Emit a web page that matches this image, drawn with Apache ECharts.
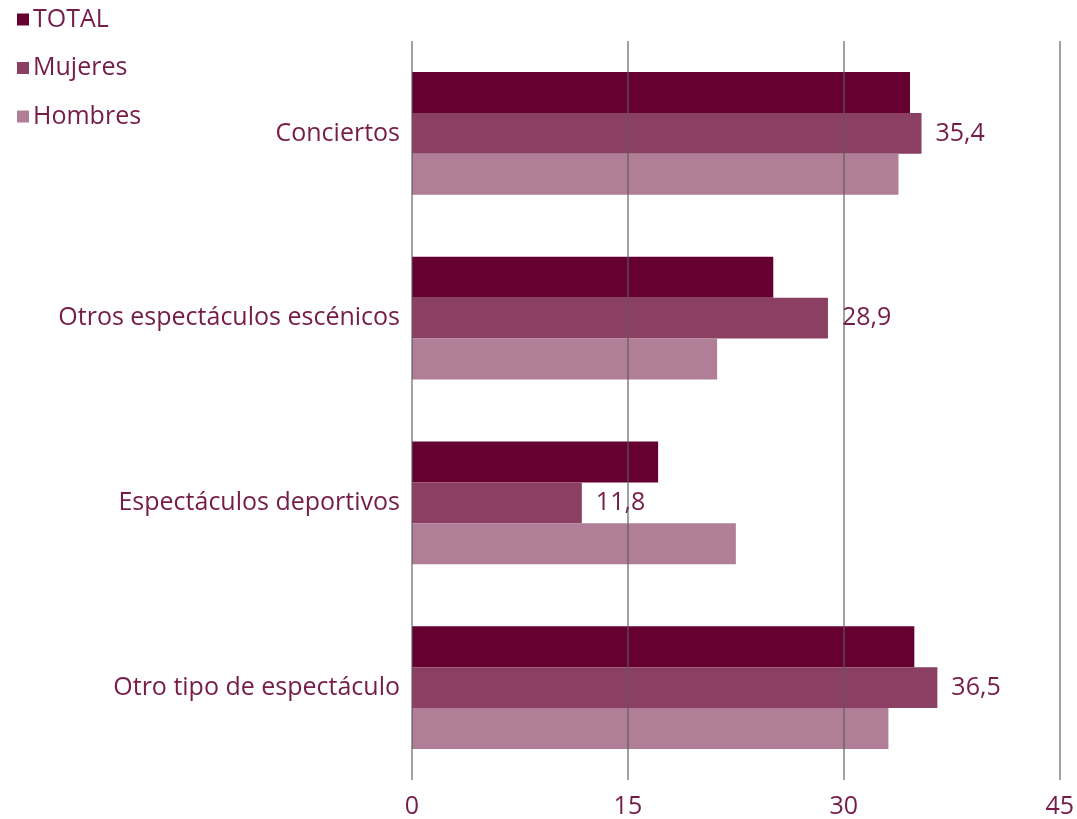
<!DOCTYPE html>
<html><head><meta charset="utf-8">
<script src="https://cdn.jsdelivr.net/npm/echarts@6/dist/echarts.min.js"></script>
<style>html,body{margin:0;padding:0;background:#fff}#c{width:1077px;height:819px}</style>
</head><body><div id="c"></div>
<script>
const categories = ['Conciertos', 'Otros espectáculos escénicos', 'Espectáculos deportivos', 'Otro tipo de espectáculo'];
const total = [34.6, 25.1, 17.1, 34.9];
const mujeres = [35.4, 28.9, 11.8, 36.5];
const hombres = [33.8, 21.2, 22.5, 33.1];
const xTicks = [0, 15, 30, 45];

const txt = '#751c48';
const font = 'Open Sans';
const fs = 25;
const chart = echarts.init(document.getElementById('c'));
chart.setOption({
  animation: false,
  textStyle: { fontFamily: font },
  legend: {
    orient: 'vertical', left: 12, top: 2,
    icon: 'rect', itemWidth: 12, itemHeight: 12, itemGap: 23.5,
    textStyle: { color: txt, fontSize: fs, fontFamily: font, padding: [0, 0, 0, -1] },
    data: ['TOTAL', 'Mujeres', 'Hombres']
  },
  grid: { left: 412, right: 16, top: 41, bottom: 37, containLabel: false },
  xAxis: {
    type: 'value', min: 0, max: 45, interval: 15, z: 5,
    axisLine: { show: false }, axisTick: { show: false },
    splitLine: { show: true, lineStyle: { color: 'rgba(90,90,90,0.75)', width: 1.5 } },
    axisLabel: { color: txt, fontSize: fs, fontFamily: font, margin: 14,
      formatter: v => xTicks.includes(v) ? String(v) : '' }
  },
  yAxis: {
    type: 'category', data: categories, inverse: true,
    axisLine: { show: false }, axisTick: { show: false },
    axisLabel: { color: txt, fontSize: fs, fontFamily: font, margin: 12 }
  },
  series: [
    { name: 'TOTAL', type: 'bar', data: total, barGap: '0%', barCategoryGap: '33.6%',
      itemStyle: { color: '#650030' } },
    { name: 'Mujeres', type: 'bar', data: mujeres, barGap: '0%', barCategoryGap: '33.6%',
      itemStyle: { color: '#8b3f63' },
      label: { show: true, position: 'right', distance: 14, color: txt, fontSize: fs, fontFamily: font,
        formatter: p => String(p.value).replace('.', ',') } },
    { name: 'Hombres', type: 'bar', data: hombres, barGap: '0%', barCategoryGap: '33.6%',
      itemStyle: { color: '#b07e97' } }
  ]
});
</script></body></html>
